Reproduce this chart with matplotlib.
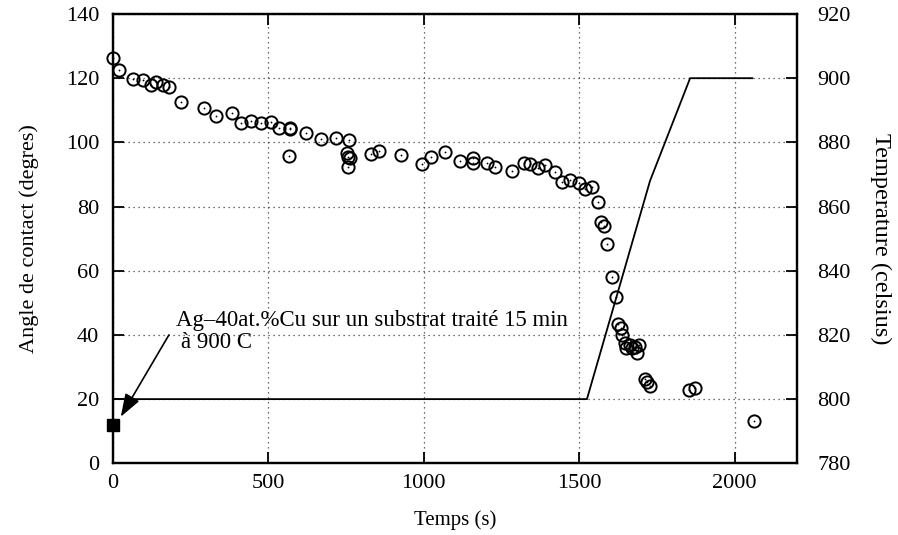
import matplotlib
matplotlib.use("Agg")
import matplotlib.pyplot as plt

plt.rcParams['font.family'] = ['Liberation Serif', 'DejaVu Serif']

# Contact angle data (time s, angle degrees)
time_s = [0, 20, 63, 96, 121, 137, 160, 181, 218, 293, 331, 382, 412, 443, 475, 508,
          535, 570, 570, 565, 621, 668, 718, 760, 752, 757, 763, 757, 829, 855, 926,
          994, 1023, 1069, 1116, 1160, 1160, 1203, 1229, 1285, 1321, 1342, 1367, 1390,
          1423, 1444, 1471, 1498, 1519, 1541, 1560, 1569, 1581, 1589, 1605, 1618, 1626,
          1635, 1637, 1646, 1651, 1662, 1669, 1680, 1694, 1687, 1712, 1718, 1728, 1855,
          1873, 2061]
angle_deg = [126.2, 122.6, 119.7, 119.4, 117.8, 118.8, 117.9, 117.4, 112.6, 110.6, 108.3,
             109.3, 106.0, 106.7, 106.0, 106.5, 104.4, 104.6, 104.2, 95.9, 102.8, 100.9,
             101.5, 100.6, 96.7, 95.5, 95.1, 92.3, 96.4, 97.2, 96.1, 93.3, 95.4, 97.1, 94.2,
             95.0, 93.5, 93.7, 92.3, 91.1, 93.7, 93.3, 91.9, 93.0, 90.9, 87.6, 88.3, 87.3,
             85.4, 86.2, 81.3, 75.3, 74.0, 68.2, 58.1, 51.9, 43.3, 42.1, 40.0, 37.4, 35.8,
             36.9, 35.8, 36.3, 36.9, 34.3, 26.2, 25.4, 24.1, 22.8, 23.4, 13.2]

# Temperature program (time s, celsius)
temp_time = [0, 1525, 1728, 1857, 2057]
temp_c = [800, 800, 868, 900, 900]

# Reference point
ref_time = [0]
ref_angle = [12]

x_ticks = [0, 500, 1000, 1500, 2000]
y_ticks = [0, 20, 40, 60, 80, 100, 120, 140]
y2_ticks = [780, 800, 820, 840, 860, 880, 900, 920]

fs_tick = 16
fig = plt.figure(figsize=(8.98, 5.35), dpi=100)
ax = fig.add_axes([113/898, 1-463.3/535, (796.7-113)/898, (463.3-14)/535])
ax2 = ax.twinx()

ax.set_xlim(0, 2200)
ax.set_ylim(0, 140)
ax2.set_ylim(780, 920)

ax.set_xticks(x_ticks)
ax.set_yticks(y_ticks)
ax2.set_yticks(y2_ticks)

ax.grid(True, linestyle=(0, (1, 3)), color='0.25', linewidth=0.9)
ax.set_axisbelow(True)

ax2.plot(temp_time, temp_c, color='black', lw=1.3, zorder=3)

ax.plot(time_s, angle_deg, linestyle='none', marker='o', markersize=8.8,
        markerfacecolor='none', markeredgecolor='black', markeredgewidth=1.4,
        zorder=4, clip_on=False)
ax.plot(time_s, angle_deg, linestyle='none', marker='o', markersize=1.3,
        color='black', markeredgewidth=0, zorder=4, clip_on=False)
ax.plot(ref_time, ref_angle, linestyle='none', marker='s', markersize=9,
        color='black', zorder=5, clip_on=False)

ax.annotate('', xy=(25, 14.5), xytext=(180, 40),
            arrowprops=dict(arrowstyle='-|>,head_length=1.0,head_width=0.35',
                            mutation_scale=14, color='black', lw=1.2,
                            shrinkA=0, shrinkB=0), zorder=6)
ax.text(203, 42.8, 'Ag–40at.%Cu sur un substrat traité 15 min', fontsize=16.5,
        ha='left', va='baseline', zorder=6)
ax.text(219, 35.9, 'à 900 C', fontsize=16.5, ha='left', va='baseline', zorder=6)

for a in (ax, ax2):
    for s in a.spines.values():
        s.set_linewidth(1.6)
ax.tick_params(axis='both', direction='in', length=8, width=1.3, labelsize=fs_tick,
               top=True, right=False)
ax.tick_params(axis='x', pad=8)
ax.tick_params(axis='y', pad=10)
ax2.tick_params(axis='y', direction='in', length=8, width=1.3, labelsize=fs_tick, pad=15)

ax.set_xlabel('Temps (s)', fontsize=15, va='center')
ax.xaxis.set_label_coords(0.5, -0.126)
ax.set_ylabel('Angle de contact (degres)', fontsize=16, va='center')
ax.yaxis.set_label_coords(-0.122, 0.5)
ax2.set_ylabel('Temperature (celsius)', fontsize=17.5, rotation=-90, va='center')
ax2.yaxis.set_label_coords(1.122, 0.5)

fig.savefig('out.png', dpi=100)
